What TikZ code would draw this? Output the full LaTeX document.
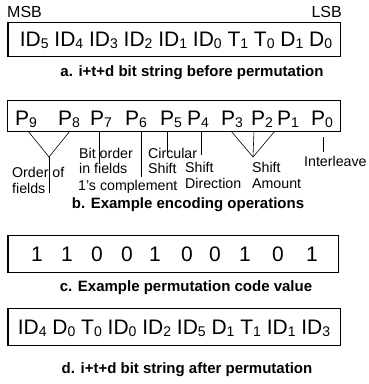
\documentclass[tikz,border=0pt]{standalone}
\usepackage{fontspec}
\setmainfont{Liberation Sans}
\newcommand{\lowidx}[1]{\raisebox{-0.12em}{\fontsize{14}{14}\selectfont #1}}
\begin{document}
\begin{tikzpicture}[x=1pt,y=-1pt,
  frame/.style={draw,line width=1pt},
  bits/.style={font=\fontsize{21}{23}\selectfont,inner sep=0pt},
  caption/.style={font=\bfseries\fontsize{15}{17}\selectfont,inner sep=0pt},
  lbl/.style={font=\fontsize{14.2}{17}\selectfont,inner sep=0pt,anchor=base west},
  lead/.style={line width=0.6pt}]
\useasboundingbox (0,0) rectangle (368,384);

% a. bit string before permutation
\node[font=\fontsize{16}{16}\selectfont,anchor=base west,inner sep=0pt] (msb) at (7,17) {MSB};
\node[font=\fontsize{16}{16}\selectfont,anchor=base east,inner sep=0pt] (lsb) at (342,17) {LSB};
\draw[frame] (8,22) rectangle (340,56);
\node[bits,anchor=base] (stra) at (176,46) {ID\lowidx{5} ID\lowidx{4} ID\lowidx{3} ID\lowidx{2} ID\lowidx{1} ID\lowidx{0} T\lowidx{1} T\lowidx{0} D\lowidx{1} D\lowidx{0}};
\node[caption] (capa) at (192,73) {a. i+t+d bit string before permutation};

% b. permutation code fields
\draw[frame] (7,100) rectangle (340,131);
\foreach \i/\x in {9/15,8/58,7/90,6/125,5/160,4/187,3/221,2/251,1/277,0/311}
  \node[bits,anchor=base west] (p\i) at (\x,125) {P\lowidx{\i}};

% order of fields (P9, P8)
\coordinate (b9) at (28,131);  \coordinate (b8) at (70,131);
\coordinate (ordv) at (49,157); \coordinate (ordend) at (49,193);
\draw[lead] (b9) -- (ordv) -- (b8);
\draw[lead] (ordv) -- (ordend);
\node[lbl] (ord1) at (12,177) {Order of};
\node[lbl] (ord2) at (12,193) {fields};

% bit order (P7)
\coordinate (b7) at (99,131); \coordinate (e7) at (99,163);
\draw[lead] (b7) -- (e7);
\node[lbl] (bit1) at (79,158) {Bit order};
\node[lbl] (bit2) at (79,173) {in fields};

% complement (P6)
\coordinate (b6) at (141,131); \coordinate (e6) at (141,177);
\draw[lead] (b6) -- (e6);
\node[lbl] (cpl) at (78,190) {1's complement};

% circular shift (P5)
\coordinate (b5) at (167,131); \coordinate (e5) at (167,155);
\draw[lead] (b5) -- (e5);
\node[lbl] (circ1) at (148,158) {Circular};
\node[lbl] (circ2) at (148,173) {Shift};

% shift direction (P4)
\coordinate (b4) at (201,131); \coordinate (e4) at (201,155);
\draw[lead] (b4) -- (e4);
\node[lbl] (dir1) at (185,172) {Shift};
\node[lbl] (dir2) at (185,188) {Direction};

% shift amount (P3, P2, P1)
\coordinate (b3) at (231,131); \coordinate (b2) at (254,131); \coordinate (b1) at (275,131);
\coordinate (amt) at (253,157);
\draw[lead] (b3) -- (amt) -- (b1);
\draw[lead] (b2) -- (amt);
\node[lbl] (amt1) at (252,172) {Shift};
\node[lbl] (amt2) at (252,188) {Amount};

% interleave (P0)
\coordinate (b0) at (323,137); \coordinate (e0) at (323,152);
\draw[lead] (b0) -- (e0);
\node[lbl] (ilv) at (304,166) {Interleave};

\node[caption] (capb) at (188,205) {b. Example encoding operations};

% c. permutation code value
\draw[frame] (8,235) rectangle (338,272);
\foreach \v/\x in {1/37,1/67,0/97,0/127,1/155,0/187,0/215,1/245,0/278,1/312}
  \node[bits,anchor=base] at (\x,261) {\v};
\node[caption] (capc) at (186,288) {c. Example permutation code value};

% d. bit string after permutation
\draw[frame] (8,308) rectangle (340,345);
\node[bits,anchor=base] (strd) at (174,334) {ID\lowidx{4} D\lowidx{0} T\lowidx{0} ID\lowidx{0} ID\lowidx{2} ID\lowidx{5} D\lowidx{1} T\lowidx{1} ID\lowidx{1} ID\lowidx{3}};
\node[caption] (capd) at (187,370) {d. i+t+d bit string after permutation};
\end{tikzpicture}
\end{document}
